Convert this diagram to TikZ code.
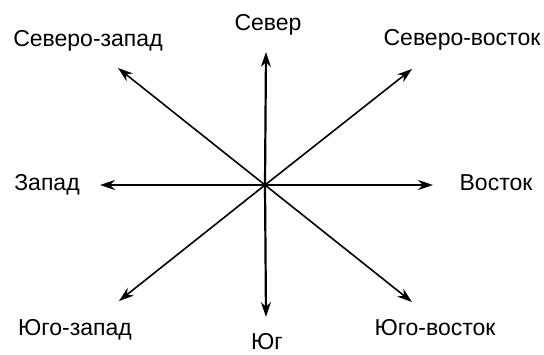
\documentclass[tikz,border=0pt]{standalone}
\usepackage{fontspec}
\setmainfont{Liberation Sans}
\usetikzlibrary{arrows.meta}
\begin{document}
\begin{tikzpicture}[x=1pt,y=-1pt,
  lbl/.style={anchor=base,inner sep=0pt,font=\fontsize{23}{26}\selectfont},
  axis/.style={line width=2.2pt,-{Stealth[length=15pt,width=10pt]}},
  diag/.style={line width=1.6pt,-{Stealth[length=15pt,width=10pt]}}]
\useasboundingbox (0,0) rectangle (544,354);
\coordinate (O) at (265,185);
\coordinate (tN) at (266,52);
\coordinate (tS) at (266,317);
\coordinate (tW) at (100,185);
\coordinate (tE) at (433,185);
\coordinate (tNW) at (118,68);
\coordinate (tNE) at (412,69);
\coordinate (tSW) at (119,301);
\coordinate (tSE) at (412,302);
\draw[axis] (O) -- (tN);
\draw[axis] (O) -- (tS);
\draw[axis] (O) -- (tW);
\draw[axis] (O) -- (tE);
\draw[diag] (O) -- (tNW);
\draw[diag] (O) -- (tNE);
\draw[diag] (O) -- (tSW);
\draw[diag] (O) -- (tSE);
\node[lbl] (n) at (268,30) {Север};
\node[lbl] (nw) at (88,46) {Северо-запад};
\node[lbl] (ne) at (462,45) {Северо-восток};
\node[lbl] (w) at (47,190) {Запад};
\node[lbl] (e) at (496,190) {Восток};
\node[lbl] (sw) at (75,335) {Юго-запад};
\node[lbl] (se) at (435,335) {Юго-восток};
\node[lbl] (s) at (267,349) {Юг};
\end{tikzpicture}
\end{document}
